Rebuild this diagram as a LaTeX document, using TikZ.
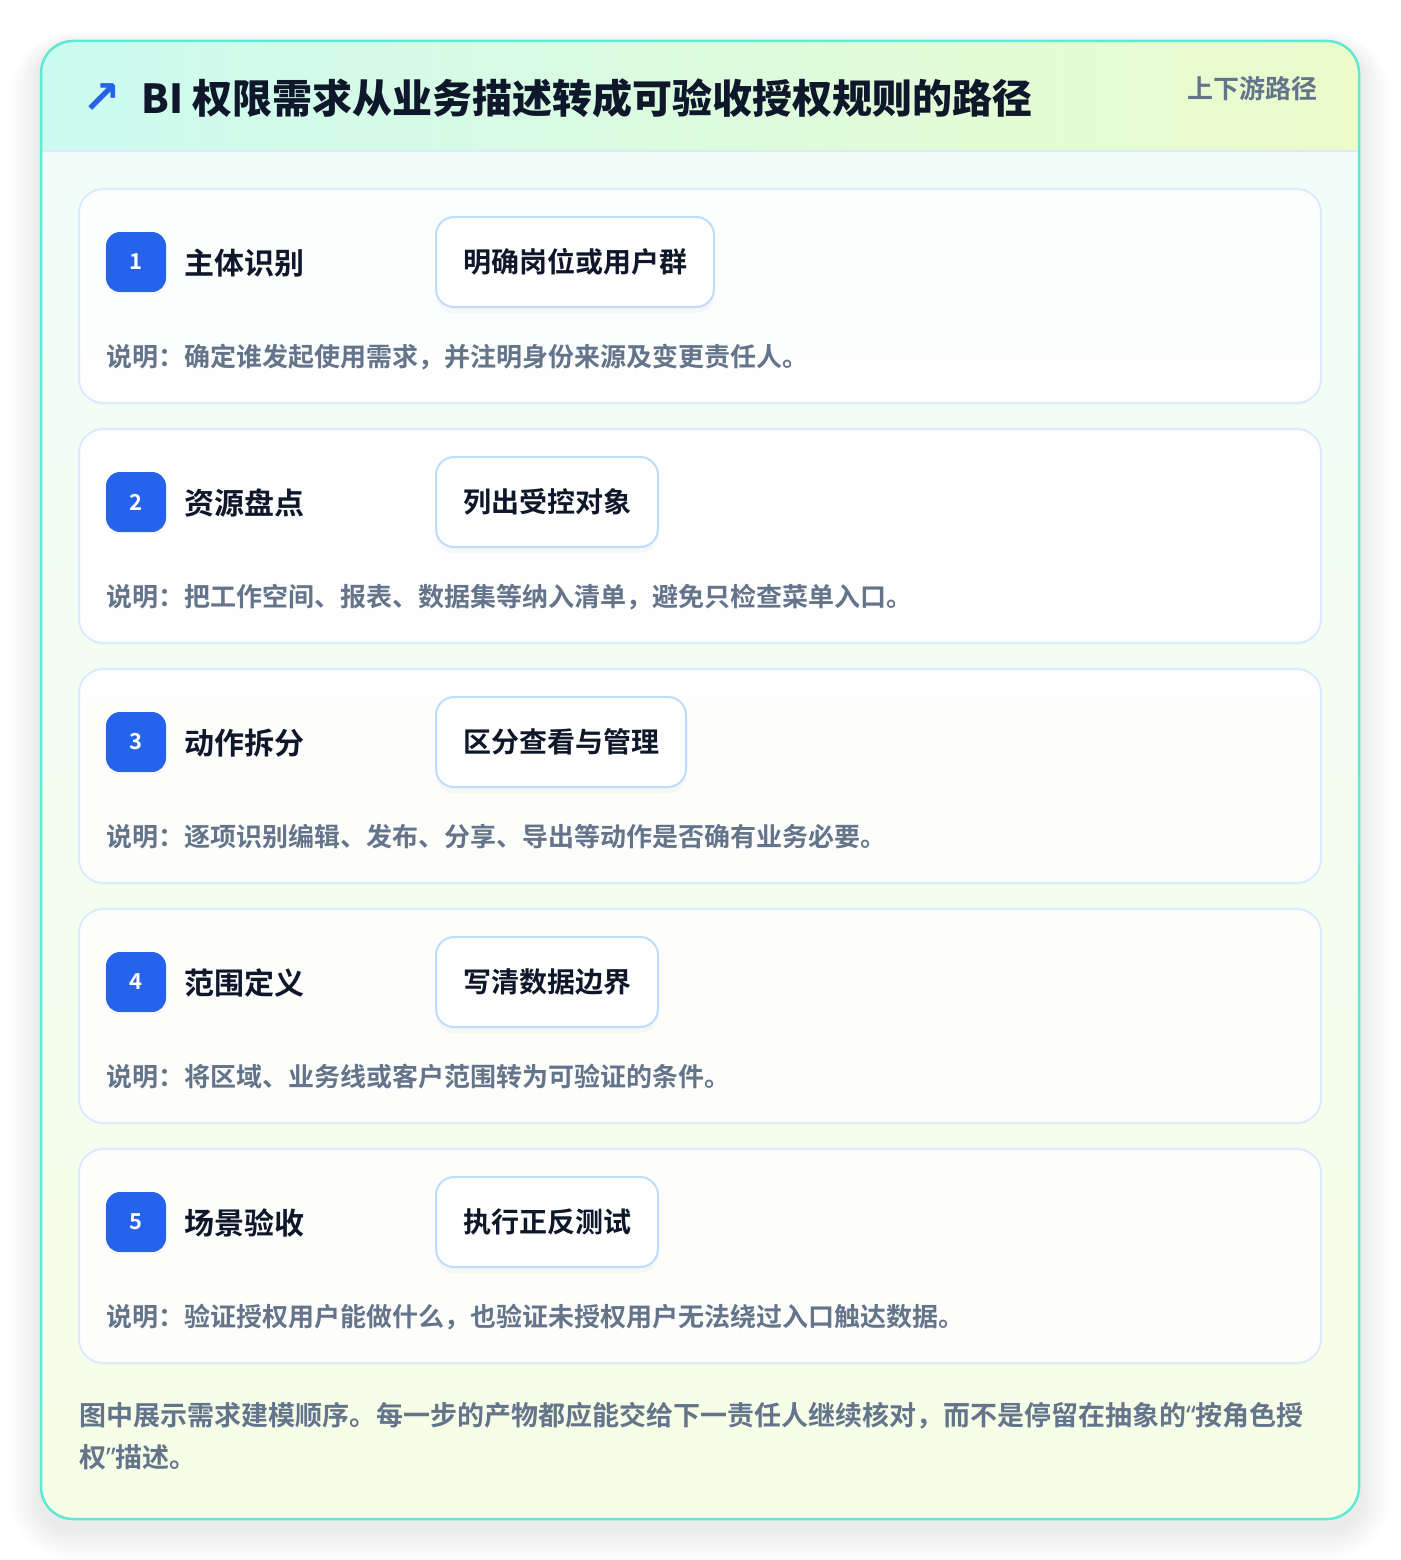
\documentclass[tikz,border=0pt]{standalone}
\usepackage{fontspec}
\setmainfont{Noto Sans CJK SC}[BoldFont={Noto Sans CJK SC Bold}]
\newfontfamily\heavyfont{Noto Sans CJK SC Black}
\newfontfamily\symfont{DejaVu Sans}
\newfontfamily\quotefont{Noto Sans}
\usetikzlibrary{shadows}

\definecolor{tealline}{HTML}{5EEAD4}
\definecolor{headleft}{HTML}{CCFBF1}
\definecolor{headright}{HTML}{ECFCCB}
\definecolor{bodytop}{HTML}{F0FDFA}
\definecolor{bodybot}{HTML}{F7FEE7}
\definecolor{cardline}{HTML}{DBEAFE}
\definecolor{chipline}{HTML}{BFDBFE}
\definecolor{badgeblue}{HTML}{2563EB}
\definecolor{inkdark}{HTML}{0F172A}
\definecolor{inkgray}{HTML}{64748B}

\tikzset{
  stepcard/.style={fill=white, fill opacity=0.85, draw=cardline, line width=2pt, rounded corners=24pt},
  badgebox/.style={fill=badgeblue, rounded corners=14pt, minimum size=60pt, inner sep=0pt,
    text=white, font=\bfseries\fontsize{22}{22}\selectfont},
  steptitle/.style={anchor=west, inner sep=0pt, text=inkdark, font=\bfseries\fontsize{30}{34}\selectfont},
  chipbox/.style={anchor=west, draw=chipline, line width=2pt, fill=white, rounded corners=18pt,
    minimum height=90pt, inner xsep=27pt, inner ysep=0pt, text=inkdark,
    font=\bfseries\fontsize{28}{32}\selectfont,
    drop shadow={opacity=0.05, shadow xshift=0pt, shadow yshift=-6pt}},
  desctext/.style={anchor=west, inner sep=0pt, text=inkgray, font=\bfseries\fontsize{26}{30}\selectfont},
  notetext/.style={anchor=base west, inner sep=0pt, text=inkgray, font=\bfseries\fontsize{27}{30}\selectfont}
}

\begin{document}
\begin{tikzpicture}[x=1pt, y=-1pt]
  \useasboundingbox (0,0) rectangle (1400,1560);
  \fill[white] (0,0) rectangle (1400,1560);

  % soft shadow under the outer card
  \foreach \s in {3,6,...,30}
    \fill[black, opacity=0.008, rounded corners=32pt+\s pt] (41-\s,41+6-\s*0.5) rectangle (1359+\s,1519+10+\s);

  % outer card: body, header band, border
  \shade[top color=bodytop, bottom color=bodybot, rounded corners=32pt] (41,41) rectangle (1359,1519);
  \begin{scope}
    \clip[rounded corners=32pt] (41,41) rectangle (1359,1519);
    \shade[left color=headleft, right color=headright] (41,41) rectangle (1359,151);
  \end{scope}
  \draw[cardline, line width=2pt] (41,151) -- (1359,151);
  \draw[tealline, line width=2.5pt, rounded corners=32pt] (41,41) rectangle (1359,1519);

  % header
  \node[text=badgeblue, inner sep=0pt, font=\symfont\bfseries\fontsize{46}{46}\selectfont] (icon) at (102,99) {↗};
  \node[anchor=west, inner sep=0pt, text=inkdark, font=\heavyfont\fontsize{40}{44}\selectfont] (head) at (141,98)
    {BI 权限需求从业务描述转成可验收授权规则的路径};
  \node[anchor=east, inner sep=0pt, text=inkgray, font=\bfseries\fontsize{26}{30}\selectfont] (pathtag) at (1318,89)
    {上下游路径};

  % steps
  \foreach \n/\ttl/\chip/\desc in {
      1/主体识别/明确岗位或用户群/{说明：确定谁发起使用需求，并注明身份来源及变更责任人。},
      2/资源盘点/列出受控对象/{说明：把工作空间、报表、数据集等纳入清单，避免只检查菜单入口。},
      3/动作拆分/区分查看与管理/{说明：逐项识别编辑、发布、分享、导出等动作是否确有业务必要。},
      4/范围定义/写清数据边界/{说明：将区域、业务线或客户范围转为可验证的条件。},
      5/场景验收/执行正反测试/{说明：验证授权用户能做什么，也验证未授权用户无法绕过入口触达数据。}}
  {
    \pgfmathsetmacro\cardtop{189+(\n-1)*240}
    \pgfmathsetmacro\cy{\cardtop+73}
    \draw[stepcard] (79,\cardtop) rectangle (1321,\cardtop+214);
    \node[badgebox] (badge\n) at (136,\cy) {\n};
    \node[steptitle] (title\n) at (184,\cy+1) {\ttl};
    \node[chipbox] (chip\n) at (435,\cy) {\chip};
    \node[desctext] (desc\n) at (106,\cardtop+168) {\desc};
  }

  % closing note
  \node[notetext] (note1) at (79,1425) {图中展示需求建模顺序。每一步的产物都应能交给下一责任人继续核对，而不是停留在抽象的{\quotefont“}按角色授};
  \node[notetext] (note2) at (79,1467) {权{\quotefont”}描述。};
\end{tikzpicture}
\end{document}
